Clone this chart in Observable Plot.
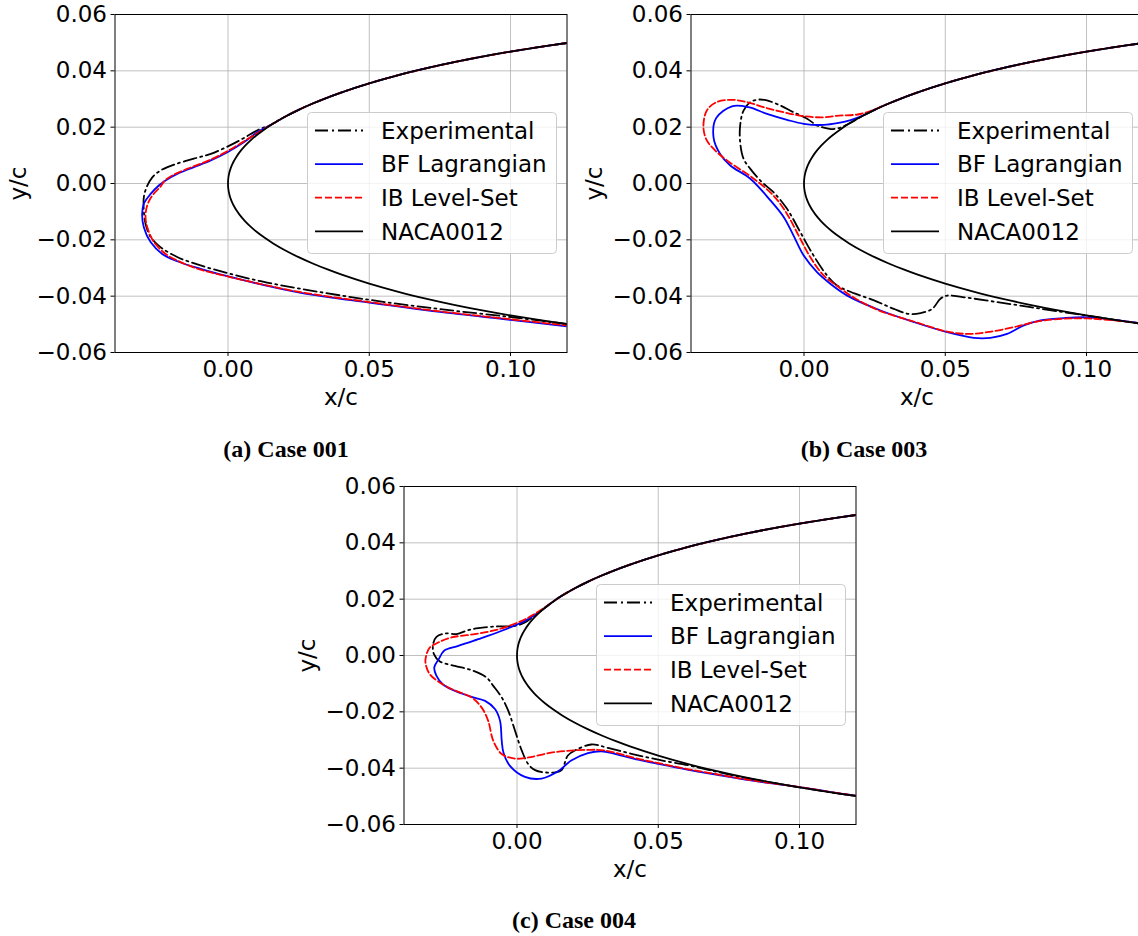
<!DOCTYPE html>
<html>
<head>
<meta charset="utf-8">
<script src="https://cdn.jsdelivr.net/npm/d3@7"></script>
<script src="https://cdn.jsdelivr.net/npm/@observablehq/plot@0.6"></script>
<style>
  html, body { margin: 0; padding: 0; background: #fff; width: 1138px; height: 936px; overflow: hidden; }
  #page { position: relative; width: 1138px; height: 936px; }
  .panel { position: absolute; width: 570px; height: 420px; }
  .panel svg { max-width: none; }
  .caption { position: absolute; font-family: "Liberation Serif", serif; font-weight: bold; font-size: 24px;
             white-space: nowrap; transform: translateX(-50%); line-height: 1; color: #000; }
  .legend { position: absolute; }
</style>
</head>
<body>
<div id="page"></div>
<script>
// Axis ticks
const xTicks = [0, 0.05, 0.10];
const yTicks = [-0.06, -0.04, -0.02, 0, 0.02, 0.04, 0.06];

// NACA0012 half-thickness table (x/c, y/c) near the leading edge
const nacaX = [0, 0.0001, 0.0003, 0.0006, 0.001, 0.0015, 0.002, 0.003, 0.004, 0.006, 0.008, 0.010,
               0.013, 0.016, 0.020, 0.025, 0.030, 0.035, 0.040, 0.050, 0.060, 0.070, 0.080, 0.090,
               0.100, 0.110, 0.120];
const nacaT = [0, 0.00177, 0.00306, 0.00432, 0.00556, 0.00679, 0.00781, 0.00953, 0.01096, 0.01334,
               0.01532, 0.01704, 0.01929, 0.02127, 0.02360, 0.02615, 0.02840, 0.03043, 0.03228,
               0.03555, 0.03838, 0.04086, 0.04307, 0.04505, 0.04683, 0.04843, 0.04988];

// Ice shapes, from where each one leaves the clean upper surface, round the nose, to the lower side
const exp001 = [[0.015,0.0207],[0.011,0.0192],[0.005,0.0158],[-0.0002,0.0131],[-0.0061,0.0105],[-0.0121,0.0088],
  [-0.0191,0.0067],[-0.0239,0.0046],[-0.0268,0.0022],[-0.0288,-0.0013],[-0.0298,-0.0049],[-0.0298,-0.0096],
  [-0.0292,-0.0143],[-0.0274,-0.0190],[-0.0239,-0.0226],[-0.0180,-0.0261],[-0.0097,-0.0291],[-0.0002,-0.0318],
  [0.0116,-0.0347],[0.0258,-0.0374],[0.05,-0.0413],[0.075,-0.0446],[0.10,-0.0474],[0.12,-0.0499]];
const bf001 = [[0.015,0.0207],[0.011,0.0186],[0.0057,0.0147],[-0.0002,0.0111],[-0.0061,0.0082],[-0.0121,0.0058],
  [-0.0180,0.0034],[-0.0221,0.0011],[-0.0245,-0.0007],[-0.0274,-0.0037],[-0.0298,-0.0072],[-0.0304,-0.0108],
  [-0.0298,-0.0155],[-0.0274,-0.0208],[-0.0233,-0.0250],[-0.0180,-0.0276],[-0.0097,-0.0303],[-0.0002,-0.0329],
  [0.0116,-0.0358],[0.0258,-0.0388],[0.05,-0.0423],[0.075,-0.0456],[0.10,-0.0484],[0.12,-0.0507]];
const ib001 = [[0.015,0.0207],[0.008,0.0164],[-0.0002,0.0115],[-0.0061,0.0085],[-0.0180,0.0037],[-0.0221,0.0013],
  [-0.0239,-0.0011],[-0.0268,-0.0043],[-0.0286,-0.0078],[-0.0292,-0.0119],[-0.0284,-0.0161],[-0.0262,-0.0208],
  [-0.0221,-0.0250],[-0.0168,-0.0279],[-0.0097,-0.0306],[-0.0002,-0.0330],[0.0116,-0.0357],[0.0258,-0.0386],
  [0.05,-0.0421],[0.075,-0.0454],[0.10,-0.0482],[0.12,-0.0504]];

const exp003 = [[0.016,0.0213],[0.0125,0.0197],[0.0095,0.0193],[0.0070,0.0198],[0.0046,0.0206],[0.0011,0.0230],
  [-0.0037,0.0253],[-0.0084,0.0277],[-0.0131,0.0295],[-0.0161,0.0298],[-0.0190,0.0289],[-0.0214,0.0259],
  [-0.0226,0.0206],[-0.0226,0.0147],[-0.0214,0.0088],[-0.0190,0.0052],[-0.0149,0.0005],[-0.0108,-0.0031],
  [-0.0060,-0.0090],[-0.0013,-0.0173],[0.0034,-0.0256],[0.0082,-0.0327],[0.0117,-0.0362],[0.0153,-0.0380],
  [0.0248,-0.0415],[0.0318,-0.0445],[0.0371,-0.0463],[0.0413,-0.0460],[0.0454,-0.0445],[0.0483,-0.0409],
  [0.0507,-0.0398],[0.0566,-0.0404],[0.0684,-0.0421],[0.0802,-0.0439],[0.0920,-0.0457],[0.1002,-0.0469],
  [0.1096,-0.0483],[0.12,-0.0499]];
const bf003 = [[0.025,0.0262],[0.021,0.0242],[0.0165,0.0225],[0.0123,0.0215],[0.0070,0.0208],[-0.0001,0.0212],
  [-0.0060,0.0226],[-0.0131,0.0247],[-0.0196,0.0271],[-0.0255,0.0274],[-0.0311,0.0232],[-0.0320,0.0162],
  [-0.0297,0.0105],[-0.0261,0.0064],[-0.0190,0.0017],[-0.0119,-0.0060],[-0.0072,-0.0119],[-0.0037,-0.0185],
  [-0.0001,-0.0256],[0.0046,-0.0315],[0.0093,-0.0356],[0.0153,-0.0398],[0.0271,-0.0451],[0.0389,-0.0492],
  [0.0507,-0.0528],[0.0601,-0.0548],[0.0660,-0.0548],[0.0719,-0.0534],[0.0778,-0.0504],[0.0837,-0.0486],
  [0.0920,-0.0478],[0.1002,-0.0475],[0.1096,-0.0484],[0.12,-0.0497]];
const ib003 = [[0.028,0.0276],[0.024,0.0259],[0.019,0.0245],[0.0123,0.0241],[0.0070,0.0235],[-0.0001,0.0239],
  [-0.0072,0.0253],[-0.0143,0.0271],[-0.0202,0.0289],[-0.0255,0.0297],[-0.0309,0.0289],[-0.0344,0.0259],
  [-0.0356,0.0200],[-0.0344,0.0153],[-0.0314,0.0117],[-0.0273,0.0082],[-0.0178,0.0017],[-0.0108,-0.0043],
  [-0.0060,-0.0108],[-0.0019,-0.0185],[0.0022,-0.0261],[0.0070,-0.0327],[0.0123,-0.0368],[0.0176,-0.0405],
  [0.0266,-0.0451],[0.0395,-0.0492],[0.0507,-0.0526],[0.0578,-0.0534],[0.0648,-0.0528],[0.0743,-0.0510],
  [0.0825,-0.0490],[0.0920,-0.0480],[0.1002,-0.0479],[0.1096,-0.0486],[0.12,-0.0497]];

const exp004 = [[0.013,0.0193],[0.010,0.0170],[0.006,0.0140],[0.0028,0.0117],[-0.0007,0.0105],[-0.0078,0.0103],
  [-0.0137,0.0097],[-0.0173,0.0090],[-0.0214,0.0076],[-0.0255,0.0078],[-0.0285,0.0066],[-0.0297,0.0040],
  [-0.0294,0.0005],[-0.0273,-0.0021],[-0.0220,-0.0037],[-0.0161,-0.0052],[-0.0108,-0.0078],[-0.0084,-0.0108],
  [-0.0054,-0.0149],[-0.0031,-0.0196],[-0.0007,-0.0267],[0.0017,-0.0338],[0.0040,-0.0386],[0.0064,-0.0407],
  [0.0099,-0.0415],[0.0135,-0.0415],[0.0158,-0.0407],[0.0180,-0.0355],[0.0209,-0.0335],[0.0263,-0.0316],
  [0.0322,-0.0328],[0.0405,-0.0349],[0.0500,-0.0370],[0.0607,-0.0390],[0.0678,-0.0406],[0.0784,-0.0430],
  [0.0900,-0.0451],[0.1000,-0.0468],[0.1100,-0.0484],[0.12,-0.0499]];
const bf004 = [[0.013,0.0193],[0.010,0.0170],[0.0060,0.0142],[0.0028,0.0123],[-0.0054,0.0088],[-0.0137,0.0058],
  [-0.0208,0.0034],[-0.0258,0.0017],[-0.0277,-0.0013],[-0.0293,-0.0043],[-0.0285,-0.0072],[-0.0261,-0.0104],
  [-0.0196,-0.0135],[-0.0155,-0.0149],[-0.0113,-0.0161],[-0.0078,-0.0190],[-0.0060,-0.0232],[-0.0054,-0.0303],
  [-0.0048,-0.0344],[-0.0025,-0.0392],[0.0028,-0.0431],[0.0087,-0.0437],[0.0144,-0.0412],[0.0192,-0.0373],
  [0.0251,-0.0347],[0.0299,-0.0340],[0.0346,-0.0349],[0.0429,-0.0370],[0.0500,-0.0385],[0.0607,-0.0406],
  [0.0725,-0.0426],[0.0844,-0.0446],[0.1000,-0.0467],[0.1100,-0.0483],[0.12,-0.0498]];
const ib004 = [[0.013,0.0193],[0.010,0.0172],[0.006,0.0146],[0.0017,0.0123],[-0.0066,0.0093],[-0.0149,0.0076],
  [-0.0232,0.0064],[-0.0279,0.0046],[-0.0309,0.0028],[-0.0320,0.0005],[-0.0324,-0.0025],[-0.0309,-0.0066],
  [-0.0279,-0.0092],[-0.0232,-0.0119],[-0.0161,-0.0149],[-0.0125,-0.0185],[-0.0102,-0.0232],[-0.0084,-0.0303],
  [-0.0054,-0.0350],[-0.0007,-0.0366],[0.0040,-0.0362],[0.0133,-0.0343],[0.0251,-0.0335],[0.0310,-0.0337],
  [0.0429,-0.0367],[0.0500,-0.0382],[0.0607,-0.0404],[0.0725,-0.0425],[0.0844,-0.0445],[0.1000,-0.0467],
  [0.1100,-0.0483],[0.12,-0.0498]];

const seriesNames = ["Experimental", "BF Lagrangian", "IB Level-Set", "NACA0012"];
const cases = [
  {caption: "(a) Case 001", exp: exp001, bf: bf001, ib: ib001},
  {caption: "(b) Case 003", exp: exp003, bf: bf003, ib: ib003},
  {caption: "(c) Case 004", exp: exp004, bf: bf004, ib: ib004}
];

// Clean airfoil contour: upper surface back to the nose, then the lower surface
const nacaUpperDesc = nacaX.map((x, i) => [x, nacaT[i]]).reverse();
const nacaLower = nacaX.map((x, i) => [x, -nacaT[i]]);
const nacaContour = nacaUpperDesc.concat(nacaLower.slice(1));

// Ice contour = clean upper surface aft of the first ice point, followed by the ice points
function withUpperSurface(ice) {
  const x0 = ice[0][0];
  return nacaUpperDesc.filter(d => d[0] > x0 + 1e-4).concat(ice);
}

const styles = {
  "Experimental": {stroke: "#000000", dash: "13,4,2,4"},
  "BF Lagrangian": {stroke: "#0000ff", dash: null},
  "IB Level-Set": {stroke: "#ff0000", dash: "7,3"},
  "NACA0012": {stroke: "#000000", dash: null}
};
const LW = 1.8;
const FS = 23;
const fmt = d3.format(".2f");

function contourMark(pts, name) {
  const s = styles[name];
  return Plot.line(pts, {
    x: d => d[0], y: d => d[1], stroke: s.stroke, strokeWidth: LW,
    strokeDasharray: s.dash ?? undefined, curve: "catmull-rom", clip: true
  });
}

function drawPanel(c, left, top) {
  const page = document.getElementById("page");
  const wrap = document.createElement("div");
  wrap.className = "panel";
  wrap.style.left = left + "px";
  wrap.style.top = top + "px";
  page.appendChild(wrap);

  const mL = 114.5, mT = 14;
  const chart = Plot.plot({
    width: 570, height: 420,
    marginLeft: mL, marginTop: mT, marginRight: 3.5, marginBottom: 68,
    x: {domain: [-0.04, 0.12]},
    y: {domain: [-0.06, 0.06]},
    style: {fontFamily: "DejaVu Sans", fontSize: FS + "px", color: "#000", background: "transparent", overflow: "visible", maxWidth: "none"},
    marks: [
      Plot.gridX(xTicks, {stroke: "#b0b0b0", strokeOpacity: 1, strokeWidth: 0.8}),
      Plot.gridY(yTicks, {stroke: "#b0b0b0", strokeOpacity: 1, strokeWidth: 0.8}),
      contourMark(withUpperSurface(c.exp), "Experimental"),
      contourMark(withUpperSurface(c.bf), "BF Lagrangian"),
      contourMark(withUpperSurface(c.ib), "IB Level-Set"),
      contourMark(nacaContour, "NACA0012"),
      Plot.frame({stroke: "#000", strokeWidth: 1}),
      Plot.axisX(xTicks, {tickSize: 4, tickPadding: 4, tickFormat: fmt, fontSize: FS,
        label: "x/c", labelAnchor: "center", labelArrow: "none", labelOffset: 52}),
      Plot.axisY(yTicks, {tickSize: 4, tickPadding: 4, tickFormat: fmt, fontSize: FS,
        label: "y/c", labelAnchor: "center", labelArrow: "none", labelOffset: 105})
    ]
  });
  wrap.appendChild(chart);

  // Legend box in the upper right of the axes
  const lw = 249, lh = 141;
  const leg = d3.select(wrap).append("svg")
    .attr("class", "legend")
    .attr("width", lw + 2).attr("height", lh + 2)
    .style("left", (mL + 192.5) + "px").style("top", (mT + 98) + "px")
    .style("font-family", "DejaVu Sans").style("font-size", FS + "px");
  leg.append("rect").attr("x", 0.5).attr("y", 0.5).attr("width", lw).attr("height", lh).attr("rx", 4)
    .attr("fill", "#fff").attr("fill-opacity", 0.8).attr("stroke", "#cccccc").attr("stroke-width", 1);
  seriesNames.forEach((name, i) => {
    const cy = 18.5 + i * 33.6;
    const s = styles[name];
    leg.append("line").attr("x1", 8).attr("x2", 56).attr("y1", cy).attr("y2", cy)
      .attr("stroke", s.stroke).attr("stroke-width", LW)
      .attr("stroke-dasharray", s.dash);
    leg.append("text").attr("x", 74).attr("y", cy).attr("dy", "0.36em").attr("fill", "#000").text(name);
  });
}

drawPanel(cases[0], 0, 0);
drawPanel(cases[1], 576, 0);
drawPanel(cases[2], 288.5, 472);

// Sub-figure captions
const captionSpots = [[286, 437], [864, 437], [574, 908]];
cases.forEach((c, i) => {
  const el = document.createElement("div");
  el.className = "caption";
  el.style.left = captionSpots[i][0] + "px";
  el.style.top = captionSpots[i][1] + "px";
  el.textContent = c.caption;
  document.getElementById("page").appendChild(el);
});
</script>
</body>
</html>
